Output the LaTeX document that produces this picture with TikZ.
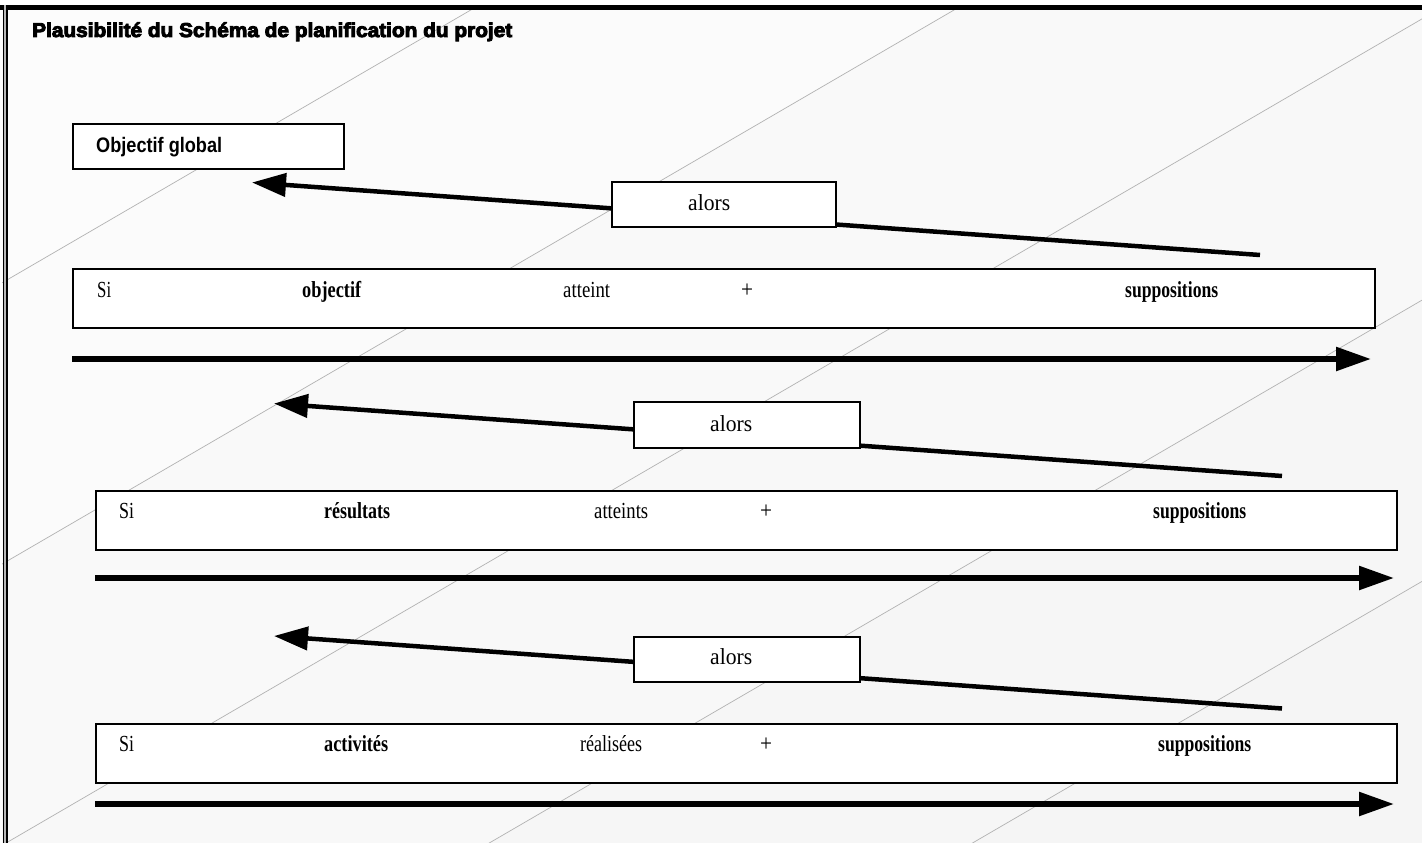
\documentclass[tikz,border=0pt]{standalone}
\usepackage{fontspec}
\usepackage{graphicx}
\setmainfont{Liberation Serif}
\newfontfamily\sansf{Liberation Sans}
\newfontfamily\heavyf[FakeBold=4.5]{Liberation Sans Bold}
\usetikzlibrary{arrows.meta}
\newcommand{\wfit}[2]{\resizebox{#1pt}{\height}{#2}}
\definecolor{bandA}{gray}{0.99}
\definecolor{bandB}{gray}{0.983}
\definecolor{bandC}{gray}{0.976}
\definecolor{bandD}{gray}{0.971}
\definecolor{bandE}{gray}{0.966}
\definecolor{bandF}{gray}{0.961}
\definecolor{hatch}{gray}{0.7}
\begin{document}
\begin{tikzpicture}[x=1pt,y=-1pt,
  bigbox/.style={draw=black,line width=2pt,fill=white,rectangle,inner sep=0pt,anchor=north west},
  word/.style={inner sep=0pt,anchor=base west,font=\fontsize{23}{26}\selectfont},
  bword/.style={word,font=\fontsize{23}{26}\selectfont\bfseries},
  plus/.style={inner sep=0pt,anchor=base,font=\fontsize{24}{26}\selectfont},
  diag/.style={line width=4.5pt,-{Triangle[length=34pt,width=23pt]}},
  harrow/.style={line width=5.5pt,-{Triangle[length=35pt,width=23pt]}}]
\useasboundingbox (0,0) rectangle (1422,843);
% background bands and hatch lines
\begin{scope}
\clip (0,0) rectangle (1422,843);
\fill[bandA] (0,0) rectangle (1422,843);
\foreach \c/\col in {284/bandB,565.25/bandC,846.5/bandD,1127.75/bandE,1409/bandF}{
  \fill[\col] (-200,{\c+116.4}) -- (1700,{\c-989.4}) -- (1700,2000) -- (-200,2000) -- cycle;
}
\foreach \c in {284,565.25,846.5,1127.75,1409}{
  \draw[hatch,line width=0.7pt] (-200,{\c+116.4}) -- (1700,{\c-989.4});
}
\end{scope}
% frame
\fill[white] (0,0) rectangle (1422,5);
\fill[white] (0,0) rectangle (2,843);
\fill[black] (0,5) rectangle (1422,10);
\fill[gray!55] (2.5,5) rectangle (7.5,843);
\fill[black] (2.5,5) rectangle (3.8,843);
\fill[black] (6.2,5) rectangle (7.5,843);
% title
\node[inner sep=0pt,anchor=base west] (title) at (32,37)
  {\heavyf\fontsize{20}{22}\selectfont\wfit{480}{Plausibilité du Schéma de planification du projet}};
% objectif global
\node[bigbox,minimum width=271pt,minimum height=45pt] (objbox) at (72,123) {};
\node[inner sep=0pt,anchor=base west] (objtxt) at (96,152)
  {\sansf\bfseries\fontsize{21}{24}\selectfont\wfit{126}{Objectif global}};
% connectors (diagonal)
\coordinate (d1s) at (1260,255);   \coordinate (d1t) at (252,182.5);
\coordinate (d2s) at (1282,476);   \coordinate (d2t) at (274,403.5);
\coordinate (d3s) at (1282,708.5); \coordinate (d3t) at (274,636);
\draw[diag] (d1s) -- (d1t);
\draw[diag] (d2s) -- (d2t);
\draw[diag] (d3s) -- (d3t);
% alors boxes
\node[bigbox,minimum width=224pt,minimum height=45pt] (alors1) at (611,181) {};
\node[bigbox,minimum width=226pt,minimum height=46pt] (alors2) at (633,401) {};
\node[bigbox,minimum width=226pt,minimum height=45pt] (alors3) at (633,636) {};
\node[word] (alt1) at (688,210) {\wfit{42}{alors}};
\node[word] (alt2) at (710,431) {\wfit{42}{alors}};
\node[word] (alt3) at (710,664) {\wfit{42}{alors}};
% big boxes
\node[bigbox,minimum width=1302pt,minimum height=59pt] (row1) at (72,268) {};
\node[bigbox,minimum width=1301pt,minimum height=59pt] (row2) at (95,490) {};
\node[bigbox,minimum width=1301pt,minimum height=59pt] (row3) at (95,723) {};
% row 1 texts
\node[word]  (r1a) at (97,297)   {\wfit{14}{Si}};
\node[bword] (r1b) at (302,297)  {\wfit{59}{objectif}};
\node[word]  (r1c) at (563,297)  {\wfit{47}{atteint}};
\node[plus]  (r1d) at (747,297)  {\wfit{12}{+}};
\node[bword] (r1e) at (1125,297) {\wfit{93}{suppositions}};
% row 2 texts
\node[word]  (r2a) at (119,518)  {\wfit{15}{Si}};
\node[bword] (r2b) at (324,518)  {\wfit{66}{résultats}};
\node[word]  (r2c) at (594,518)  {\wfit{54}{atteints}};
\node[plus]  (r2d) at (766,518)  {\wfit{12}{+}};
\node[bword] (r2e) at (1153,518) {\wfit{93}{suppositions}};
% row 3 texts
\node[word]  (r3a) at (119,751)  {\wfit{15}{Si}};
\node[bword] (r3b) at (324,751)  {\wfit{64}{activités}};
\node[word]  (r3c) at (580,751)  {\wfit{62}{réalisées}};
\node[plus]  (r3d) at (766,751)  {\wfit{12}{+}};
\node[bword] (r3e) at (1158,751) {\wfit{93}{suppositions}};
% horizontal arrows
\coordinate (h1s) at (72,359);  \coordinate (h1t) at (1371,359);
\coordinate (h2s) at (95,578);  \coordinate (h2t) at (1394,578);
\coordinate (h3s) at (95,804);  \coordinate (h3t) at (1394,804);
\draw[harrow] (h1s) -- (h1t);
\draw[harrow] (h2s) -- (h2t);
\draw[harrow] (h3s) -- (h3t);
\end{tikzpicture}
\end{document}
